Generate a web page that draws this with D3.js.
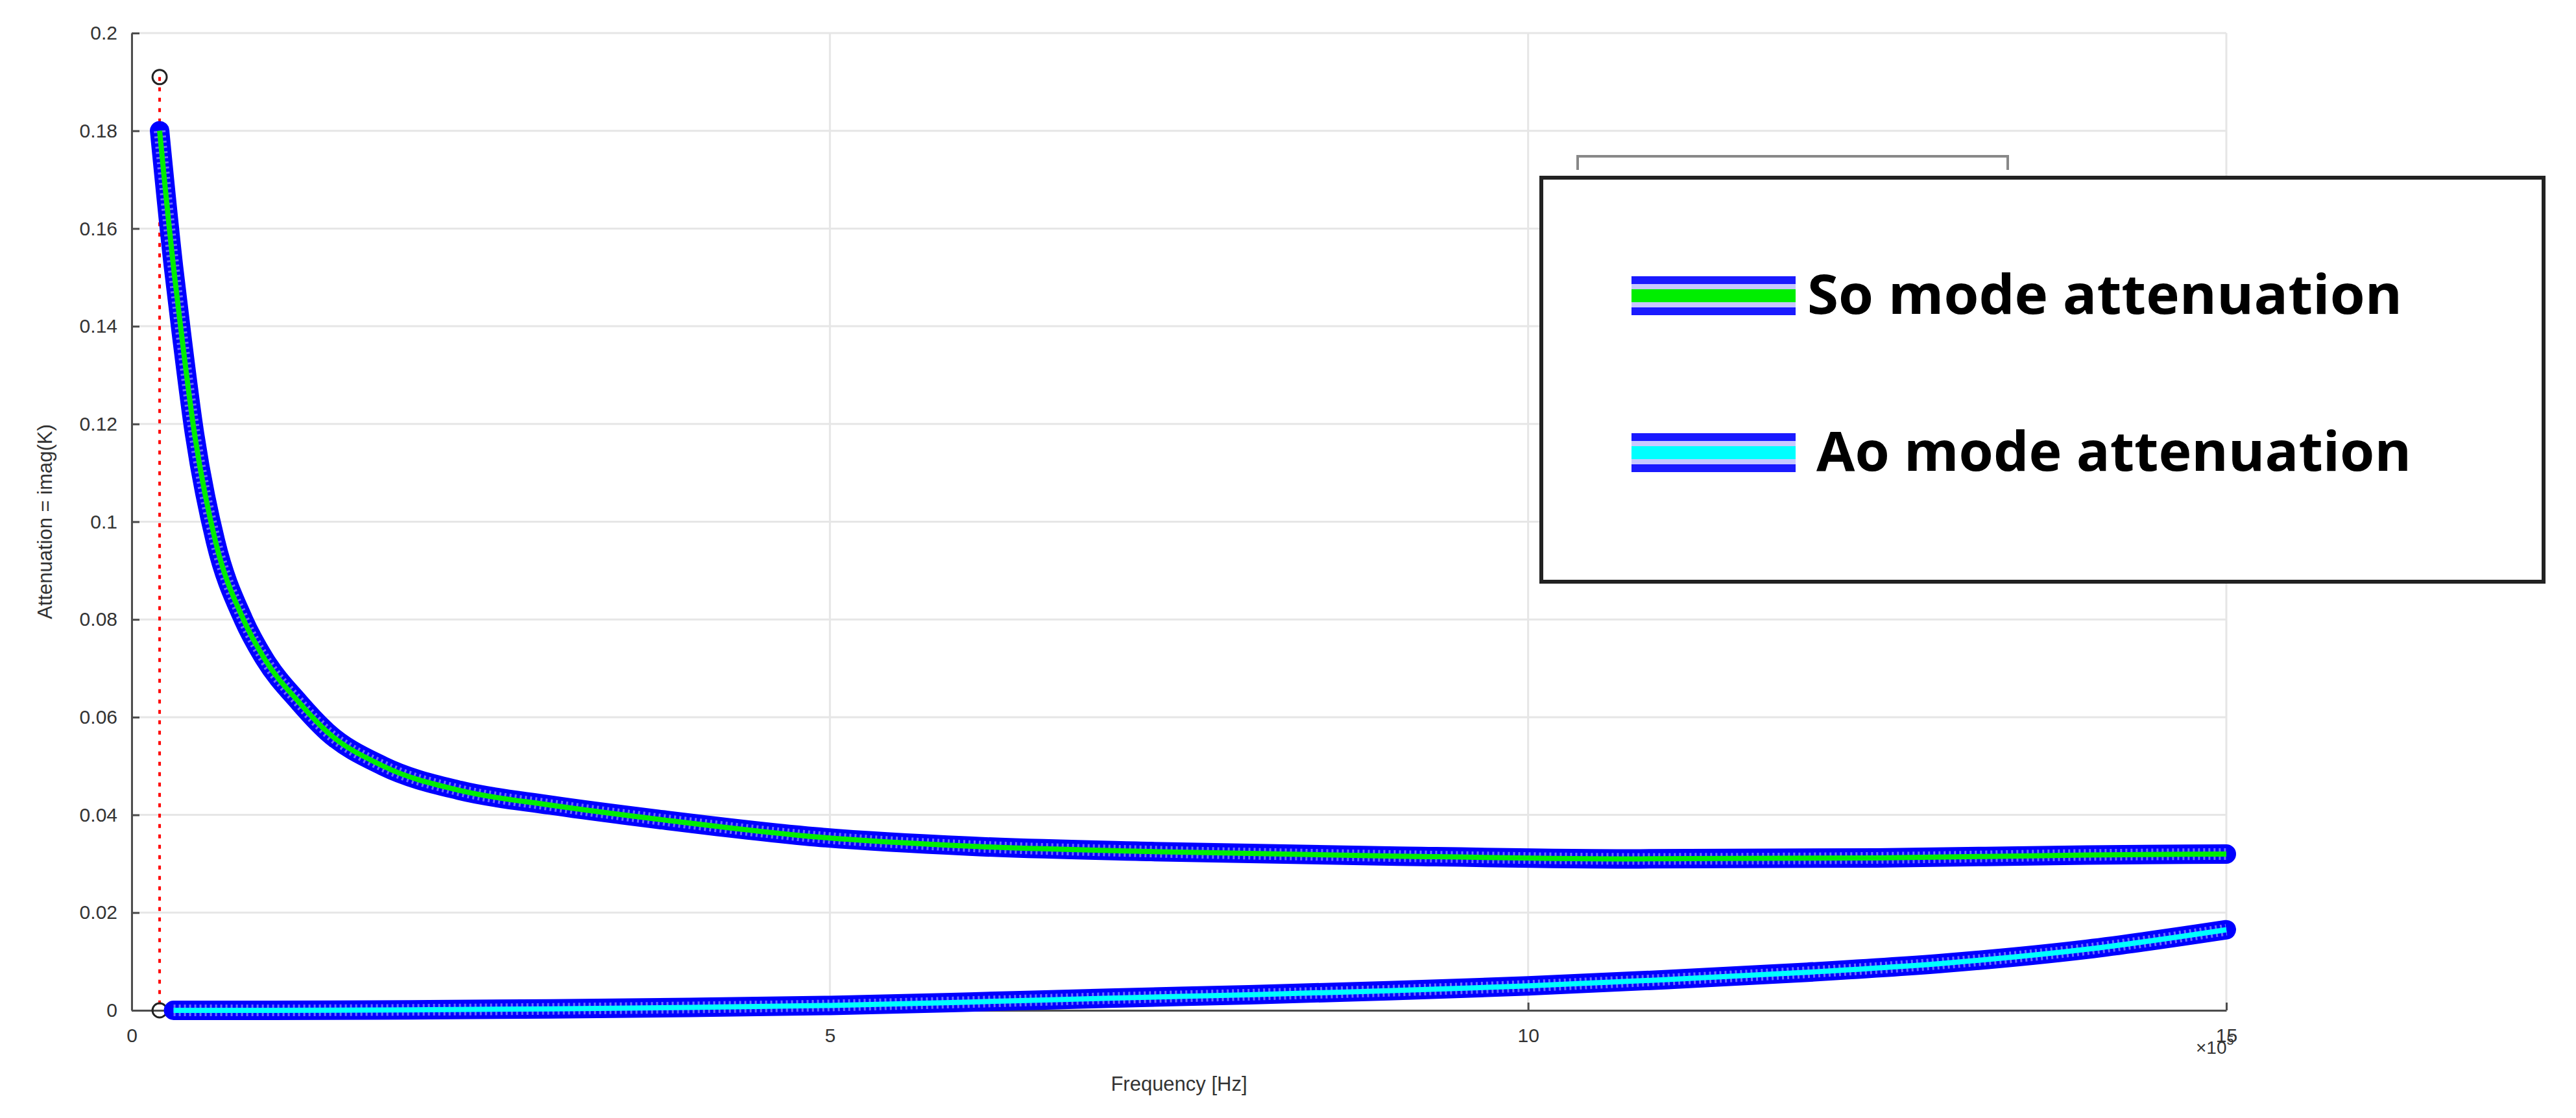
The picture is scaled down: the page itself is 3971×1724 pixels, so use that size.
<!DOCTYPE html>
<html><head><meta charset="utf-8">
<script src="https://cdn.jsdelivr.net/npm/d3@7"></script>
<style>body{margin:0;background:#fff}</style>
</head><body>
<svg id="chart" width="3971" height="1724"></svg>
<script>
// values (frequency in units of 1e5 Hz)
var s0Freq = [0.2, 0.3, 0.35, 0.45, 0.6, 0.8, 0.95, 1.2, 1.4, 1.8, 2.35, 3, 3.8, 4.9, 6, 7.3, 9, 10.8, 12.5, 14, 15];
var s0Atten = [0.180, 0.152, 0.140, 0.118, 0.096, 0.080, 0.072, 0.063, 0.057, 0.050, 0.045, 0.042, 0.039, 0.0355, 0.0336, 0.0325, 0.0316, 0.031, 0.0312, 0.0318, 0.032];
var a0Freq = [0.3, 1, 2, 3, 4, 5, 6, 7, 8, 9, 10, 11, 12, 13, 14, 15];
var a0Atten = [0, 0, 0.0001, 0.0003, 0.0006, 0.001, 0.0017, 0.0025, 0.0032, 0.004, 0.005, 0.0063, 0.0078, 0.0097, 0.0125, 0.0165];
var xTicks = [0, 5, 10, 15];
var yTicks = [0, 0.02, 0.04, 0.06, 0.08, 0.1, 0.12, 0.14, 0.16, 0.18, 0.2];
var legendItems = ["So mode attenuation", "Ao mode attenuation"];

var svg = d3.select("#chart");
var mLeft = 203, mRight = 3432, mTop = 51, mBottom = 1558;
var x = d3.scaleLinear().domain([0, 15]).range([mLeft, mRight]);
var y = d3.scaleLinear().domain([0, 0.2]).range([mBottom, mTop]);

// grid
svg.append("g").selectAll("line").data(xTicks).enter().append("line")
    .attr("x1", d => x(d)).attr("x2", d => x(d)).attr("y1", mTop).attr("y2", mBottom)
    .attr("stroke", "#e6e6e6").attr("stroke-width", 3);
svg.append("g").selectAll("line").data(yTicks).enter().append("line")
    .attr("x1", mLeft).attr("x2", mRight).attr("y1", d => y(d)).attr("y2", d => y(d))
    .attr("stroke", "#e6e6e6").attr("stroke-width", 3);

// axes
var fmt = d => d === 0 ? "0" : String(+d.toFixed(2));
var xAxis = svg.append("g").attr("transform", "translate(0," + mBottom + ")")
    .call(d3.axisBottom(x).tickValues(xTicks).tickSizeInner(-12).tickSizeOuter(0).tickPadding(28));
var yAxis = svg.append("g").attr("transform", "translate(" + mLeft + ",0)")
    .call(d3.axisLeft(y).tickValues(yTicks).tickFormat(fmt).tickSizeInner(-12).tickSizeOuter(0).tickPadding(22));
[xAxis, yAxis].forEach(function (a) {
    a.selectAll("path,line").attr("stroke", "#4d4d4d").attr("stroke-width", 3);
    a.selectAll("text").attr("fill", "#333").style("font-family", "Liberation Sans, Arial").style("font-size", "30px");
});

svg.append("text").attr("x", (mLeft + mRight) / 2).attr("y", 1682).attr("text-anchor", "middle")
    .attr("fill", "#333").style("font-family", "Liberation Sans, Arial").style("font-size", "31px").text("Frequency [Hz]");
svg.append("text").attr("transform", "translate(80," + (mTop + mBottom) / 2 + ") rotate(-90)").attr("text-anchor", "middle")
    .attr("fill", "#333").style("font-family", "Liberation Sans, Arial").style("font-size", "31px").text("Attenuation = imag(K)");
var sci = svg.append("text").attr("x", 3385).attr("y", 1625).attr("fill", "#333")
    .style("font-family", "Liberation Sans, Arial").style("font-size", "28px");
sci.append("tspan").text("\u00d710");
sci.append("tspan").attr("dy", -14).style("font-size", "20px").text("5");

// start markers (black circles with red dotted link)
svg.append("line").attr("x1", x(0.2)).attr("x2", x(0.2)).attr("y1", y(0.191)).attr("y2", y(0))
    .attr("stroke", "red").attr("stroke-width", 4).attr("stroke-dasharray", "6,10");
svg.selectAll(".startpt").data([0.191, 0]).enter().append("circle")
    .attr("cx", x(0.2)).attr("cy", d => y(d)).attr("r", 11)
    .attr("fill", "none").attr("stroke", "#222").attr("stroke-width", 3);

var line = d3.line().x(d => x(d[0])).y(d => y(d[1])).curve(d3.curveMonotoneX);
function drawSeries(fx, vy, core) {
    var pts = d3.zip(fx, vy);
    svg.append("path").datum(pts).attr("d", line).attr("fill", "none")
        .attr("stroke", "#0000ff").attr("stroke-width", 30).attr("stroke-linecap", "round");
    svg.append("path").datum(pts).attr("d", line).attr("fill", "none")
        .attr("stroke", "#6b6bff").attr("stroke-width", 18).attr("stroke-dasharray", "3,5");
    svg.append("path").datum(pts).attr("d", line).attr("fill", "none")
        .attr("stroke", core).attr("stroke-width", 8);
}
drawSeries(s0Freq, s0Atten, "#00ee00");
drawSeries(a0Freq, a0Atten, "#00ffff");

// edge of the original legend frame peeking out
svg.append("path").attr("d", "M2432,262 V241 H3095 V262").attr("fill", "none")
    .attr("stroke", "#888").attr("stroke-width", 4);

// legend
var lg = svg.append("g");
lg.append("rect").attr("x", 2376).attr("y", 274).attr("width", 1545).attr("height", 623)
    .attr("fill", "#fff").attr("stroke", "#222").attr("stroke-width", 6);
var rowY = [426, 668];
var cores = ["#00ee00", "#00ffff"];
legendItems.forEach(function (t, i) {
    var g = lg.append("g").attr("transform", "translate(0," + rowY[i] + ")");
    g.append("rect").attr("x", 2515).attr("y", 0).attr("width", 253).attr("height", 60).attr("fill", "#1a1aff");
    g.append("rect").attr("x", 2515).attr("y", 12).attr("width", 253).attr("height", 36).attr("fill", "#c8c8ff");
    g.append("rect").attr("x", 2515).attr("y", 20).attr("width", 253).attr("height", 20).attr("fill", cores[i]);
    g.append("text").attr("x", i ? 2800 : 2786).attr("y", 58)
        .attr("textLength", 917).attr("lengthAdjust", "spacingAndGlyphs")
        .attr("fill", "#000").attr("font-weight", "bold")
        .style("font-family", "Open Sans, Liberation Sans").style("font-size", "84px").text(t);
});
</script>
</body></html>
